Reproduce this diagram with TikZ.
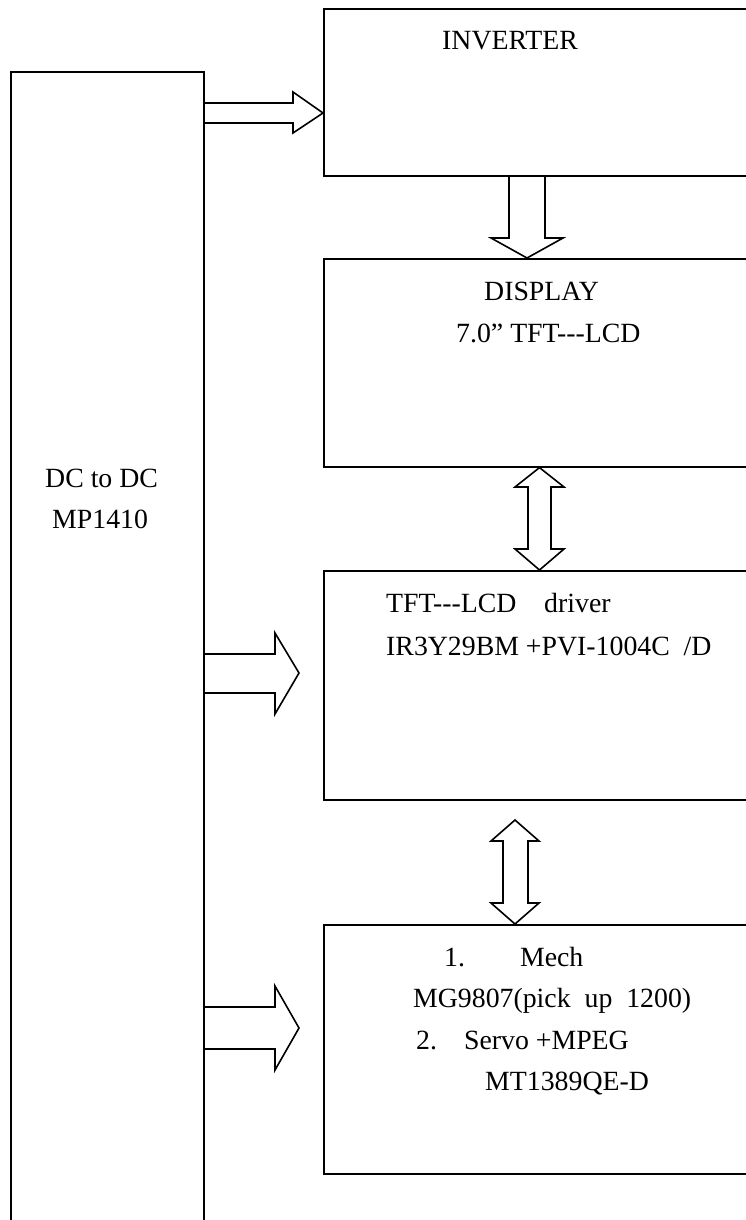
\documentclass[tikz,border=0pt]{standalone}
\usepackage{fontspec}
\setmainfont{Liberation Serif}
\begin{document}
\begin{tikzpicture}[x=1pt,y=-1pt,
  box/.style={draw, line width=1.6pt, inner sep=0pt, anchor=north west},
  lbl/.style={anchor=base west, inner sep=0pt, font=\fontsize{27.8}{33}\selectfont},
  blockarrow/.style={draw, line width=1.6pt, line join=miter}]
\useasboundingbox (0,0) rectangle (745,1220);
% boxes
\node[box, minimum width=193pt, minimum height=1160pt] (dc) at (10,71) {};
\node[box, minimum width=430pt, minimum height=167pt] (inv) at (323,8) {};
\node[box, minimum width=430pt, minimum height=208pt] (disp) at (323,258) {};
\node[box, minimum width=430pt, minimum height=229pt] (tft) at (323,570) {};
\node[box, minimum width=430pt, minimum height=249pt] (mech) at (323,924) {};
% texts
\node[lbl] (t1) at (45,487) {DC to DC};
\node[lbl] (t2) at (52,528) {MP1410};
\node[lbl] (t3) at (442,50) {INVERTER};
\node[lbl] (t4) at (484,300) {DISPLAY};
\node[lbl] (t5) at (456,342) {7.0” TFT-{}-{}-LCD};
\node[lbl] (t6) at (386,612) {TFT-{}-{}-LCD\hspace{1em}driver};
\node[lbl] (t7) at (386,655) {IR3Y29BM +PVI-1004C\ \ /D};
\node[lbl] (t8) at (444,966) {1.\hspace{55pt}Mech};
\node[lbl] (t9) at (413,1007) {MG9807(pick\ \ up\ \ 1200)};
\node[lbl] (t10) at (416,1049) {2.\hspace{27pt}Servo +MPEG};
\node[lbl] (t11) at (485,1090) {MT1389QE-D};
% block arrows
\draw[blockarrow] (dc.east |- 0,103) -- (293,103) -- (293,92) -- (inv.west |- 0,113) -- (293,133) -- (293,123) -- (dc.east |- 0,123);
\draw[blockarrow] (inv.south -| 509,0) -- (509,238) -- (491,238) -- (disp.north -| 527,0) -- (563,238) -- (545,238) -- (inv.south -| 545,0);
\draw[blockarrow] (disp.south -| 539.5,0) -- (564,487) -- (551,487) -- (551,549) -- (564,549) -- (tft.north -| 539.5,0) -- (515,549) -- (528,549) -- (528,487) -- (515,487) -- cycle;
\draw[blockarrow] (515,820) -- (539,841) -- (528,841) -- (528,903) -- (539,903) -- (mech.north -| 515,0) -- (491,903) -- (503,903) -- (503,841) -- (491,841) -- cycle;
\draw[blockarrow] (dc.east |- 0,654) -- (275,654) -- (275,633) -- (299,673) -- (275,714) -- (275,693) -- (dc.east |- 0,693);
\draw[blockarrow] (dc.east |- 0,1007) -- (275,1007) -- (275,986) -- (299,1028) -- (275,1070) -- (275,1049) -- (dc.east |- 0,1049);
\end{tikzpicture}
\end{document}
